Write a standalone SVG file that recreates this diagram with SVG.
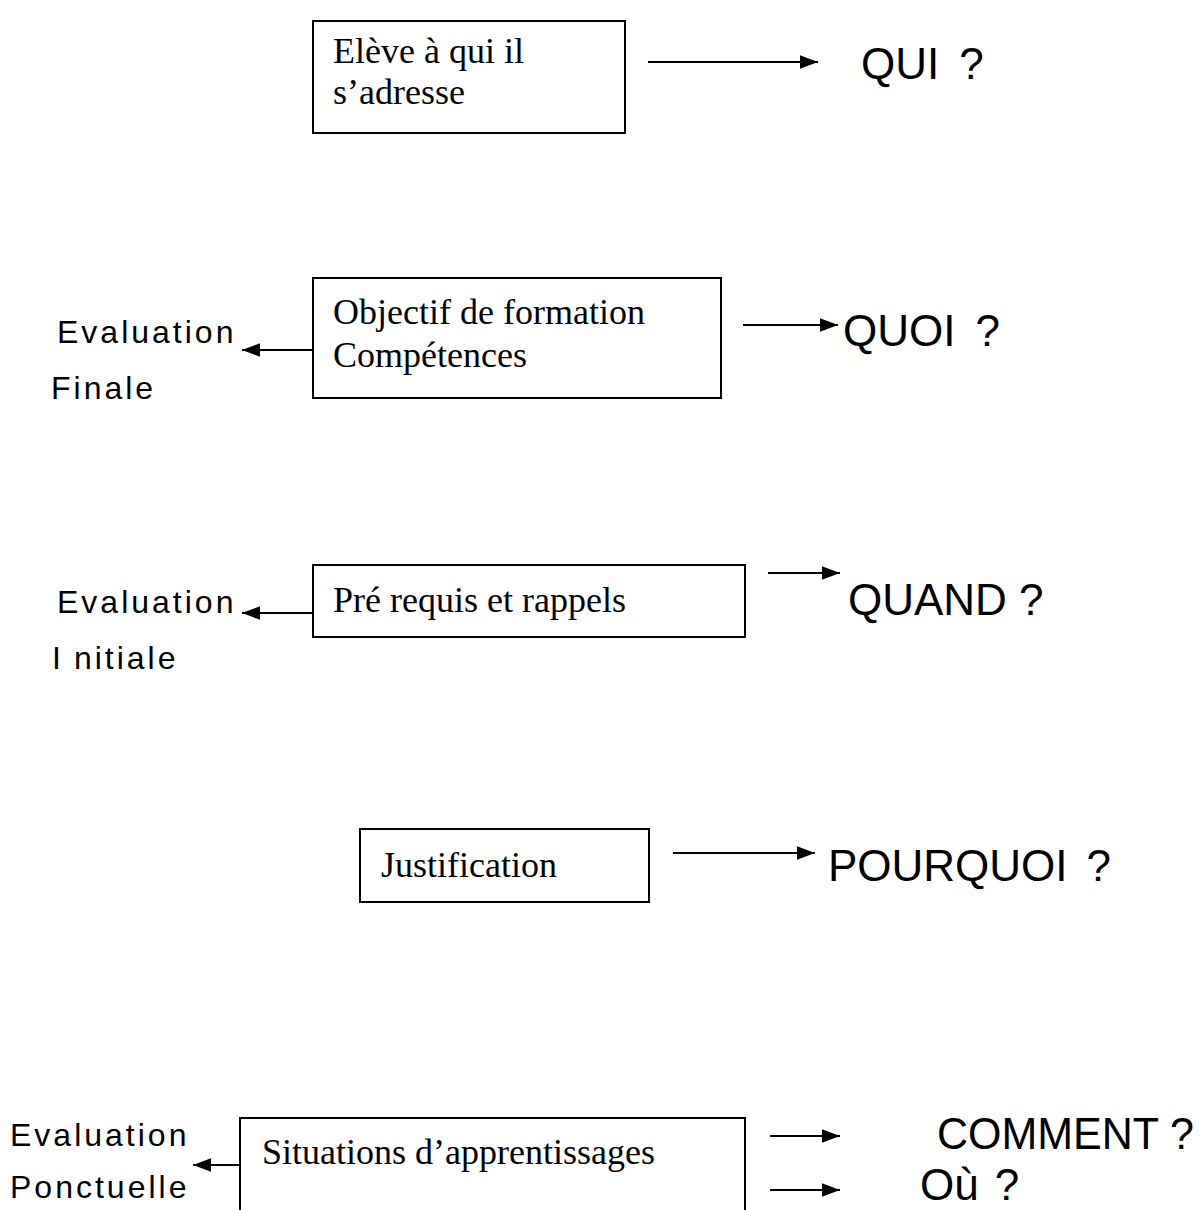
<svg xmlns="http://www.w3.org/2000/svg" width="1203" height="1210" viewBox="0 0 1203 1210">
  <style>
    .box { fill: #fff; stroke: #000; stroke-width: 2; }
    .serif { font-family: "Liberation Serif", "Times New Roman", serif; font-size: 36px; fill: #000; }
    .q { font-family: "Liberation Sans", Arial, sans-serif; font-size: 44px; fill: #000; }
    .ev { font-family: "Liberation Sans", Arial, sans-serif; font-size: 32px; letter-spacing: 3px; fill: #000; }
    .conn { stroke: #000; stroke-width: 2; fill: none; marker-end: url(#head); }
  </style>
  <defs>
    <marker id="head" viewBox="0 0 16 12" refX="16" refY="6" markerWidth="18" markerHeight="14" markerUnits="userSpaceOnUse" orient="auto">
      <path d="M0,0 L16,6 L0,12 Z" fill="#000"/>
    </marker>
  </defs>

  <rect width="1203" height="1210" fill="#fff"/>

  <!-- boxes -->
  <g id="node-eleve">
    <rect class="box" x="313" y="21" width="312" height="112"/>
    <text class="serif" x="333" y="63">Elève à qui il</text>
    <text class="serif" x="333" y="104">s’adresse</text>
  </g>
  <g id="node-objectif">
    <rect class="box" x="313" y="278" width="408" height="120"/>
    <text class="serif" x="333" y="324">Objectif de formation</text>
    <text class="serif" x="333" y="367">Compétences</text>
  </g>
  <g id="node-prerequis">
    <rect class="box" x="313" y="565" width="432" height="72"/>
    <text class="serif" x="333" y="612">Pré requis et rappels</text>
  </g>
  <g id="node-justification">
    <rect class="box" x="360" y="829" width="289" height="73"/>
    <text class="serif" x="381" y="877">Justification</text>
  </g>
  <g id="node-situations">
    <rect class="box" x="240" y="1118" width="505" height="120"/>
    <text class="serif" x="262" y="1164">Situations d’apprentissages</text>
  </g>

  <!-- question labels -->
  <g id="node-qui"><text class="q" x="861" y="79">QUI<tspan dx="20">?</tspan></text></g>
  <g id="node-quoi"><text class="q" x="843" y="346">QUOI<tspan dx="20">?</tspan></text></g>
  <g id="node-quand"><text class="q" x="848" y="615">QUAND ?</text></g>
  <g id="node-pourquoi"><text class="q" x="828" y="881">POURQUOI<tspan dx="19">?</tspan></text></g>
  <g id="node-comment"><text class="q" x="937" y="1149" textLength="257" lengthAdjust="spacingAndGlyphs">COMMENT ?</text></g>
  <g id="node-ou"><text class="q" x="920" y="1200">Où<tspan dx="16">?</tspan></text></g>

  <!-- evaluation labels -->
  <g id="node-eval-finale">
    <text class="ev" x="57" y="343">Evaluation</text>
    <text class="ev" x="51" y="399">Finale</text>
  </g>
  <g id="node-eval-initiale">
    <text class="ev" x="57" y="613">Evaluation</text>
    <text class="ev" x="52" y="669">I<tspan dx="10">nitiale</tspan></text>
  </g>
  <g id="node-eval-ponctuelle">
    <text class="ev" x="10" y="1146">Evaluation</text>
    <text class="ev" x="10" y="1198">Ponctuelle</text>
  </g>

  <!-- connectors -->
  <g id="connectors">
    <line class="conn" x1="648" y1="62" x2="818" y2="62"/>
    <line class="conn" x1="743" y1="325" x2="838" y2="325"/>
    <line class="conn" x1="312" y1="350" x2="242" y2="350"/>
    <line class="conn" x1="768" y1="573" x2="840" y2="573"/>
    <line class="conn" x1="312" y1="613" x2="242" y2="613"/>
    <line class="conn" x1="673" y1="853" x2="815" y2="853"/>
    <line class="conn" x1="240" y1="1165" x2="193" y2="1165"/>
    <line class="conn" x1="770" y1="1136" x2="840" y2="1136"/>
    <line class="conn" x1="770" y1="1190" x2="840" y2="1190"/>
  </g>
</svg>
